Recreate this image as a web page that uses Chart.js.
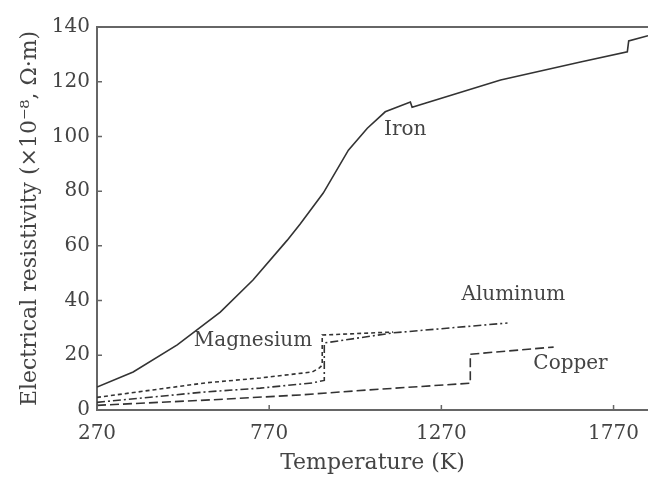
<!DOCTYPE html>
<html>
<head>
<meta charset="utf-8">
<script src="https://cdn.jsdelivr.net/npm/chart.js@4/dist/chart.umd.min.js"></script>
<style>
    html, body { margin: 0; padding: 0; background: #fff; }
    #wrap { width: 651px; height: 484px; position: relative; }
</style>
</head>
<body>
<div id="wrap"><canvas id="resistivityChart"></canvas></div>
<script>
// temperature (K) / resistivity (x10^-8 ohm.m)
const ironT = [270, 375, 503, 628, 723, 822, 860, 927, 1000, 1055, 1107, 1180, 1185, 1442, 1674, 1810, 1814, 1870];
const ironR = [8.4, 13.9, 23.8, 35.8, 47.5, 62, 68, 79.3, 95, 103, 109, 112.6, 110.7, 120.6, 127.2, 130.9, 134.9, 136.8];

const magnesiumT = [270, 584, 744, 895, 915, 924, 924, 1130];
const magnesiumR = [4.6, 9.9, 11.7, 13.9, 15.3, 16.4, 27.4, 28.5];

const aluminumT = [270, 584, 744, 895, 930, 930, 1130, 1462];
const aluminumR = [2.8, 6.6, 8.0, 9.9, 10.8, 24.5, 28.2, 31.8];

const copperT = [270, 584, 860, 1055, 1354, 1354, 1596];
const copperR = [1.7, 3.6, 5.5, 7.3, 9.8, 20.4, 23.0];

const xTicks = [270, 770, 1270, 1770];
const yTicks = [0, 20, 40, 60, 80, 100, 120, 140];

// curve labels placed in data coordinates
const curveLabels = [
    { text: 'Iron', t: 1165, r: 102.3 },
    { text: 'Magnesium', t: 723, r: 25.2 },
    { text: 'Aluminum', t: 1479, r: 42 },
    { text: 'Copper', t: 1645, r: 16.8 }
];

const lineColor = '#333';
const axisColor = '#666';
const textColor = '#444';
const serif = "'DejaVu Serif', serif";

function toPoints(ts, rs) {
    return ts.map((t, i) => ({ x: t, y: rs[i] }));
}

function series(label, ts, rs, dash) {
    return {
        label: label,
        data: toPoints(ts, rs),
        borderColor: lineColor,
        borderWidth: 1.6,
        borderDash: dash,
        pointRadius: 0,
        tension: 0,
        fill: false
    };
}

const extrasPlugin = {
    id: 'extras',
    afterDraw(chart) {
        const ctx = chart.ctx;
        const area = chart.chartArea;
        const xs = chart.scales.x;
        const ys = chart.scales.y;
        ctx.save();
        // top frame line
        ctx.strokeStyle = axisColor;
        ctx.lineWidth = 2;
        ctx.beginPath();
        ctx.moveTo(area.left - 1, area.top);
        ctx.lineTo(area.right, area.top);
        ctx.stroke();
        // inward ticks
        ctx.lineWidth = 1.5;
        ctx.beginPath();
        xTicks.forEach(v => {
            const px = xs.getPixelForValue(v);
            ctx.moveTo(px, area.bottom);
            ctx.lineTo(px, area.bottom - 5);
        });
        yTicks.forEach(v => {
            const py = ys.getPixelForValue(v);
            ctx.moveTo(area.left, py);
            ctx.lineTo(area.left + 5, py);
        });
        ctx.stroke();
        // curve labels
        ctx.fillStyle = textColor;
        ctx.font = '20px ' + serif;
        ctx.textAlign = 'center';
        ctx.textBaseline = 'middle';
        curveLabels.forEach(l => {
            ctx.fillText(l.text, xs.getPixelForValue(l.t), ys.getPixelForValue(l.r));
        });
        ctx.restore();
    }
};

new Chart(document.getElementById('resistivityChart').getContext('2d'), {
    type: 'line',
    data: {
        datasets: [
            series('Iron', ironT, ironR, []),
            series('Magnesium', magnesiumT, magnesiumR, [4, 3]),
            series('Aluminum', aluminumT, aluminumR, [8, 3, 2, 3]),
            series('Copper', copperT, copperR, [9, 4])
        ]
    },
    options: {
        responsive: true,
        maintainAspectRatio: false,
        animation: false,
        layout: { padding: { top: 27, right: 0, bottom: 0, left: 0 } },
        plugins: {
            legend: { display: false },
            tooltip: { enabled: false }
        },
        scales: {
            x: {
                type: 'linear',
                min: 270,
                max: 1870,
                afterBuildTicks: scale => { scale.ticks = xTicks.map(v => ({ value: v })); },
                afterFit: scale => { scale.height = 74; },
                grid: { display: false, drawTicks: false },
                border: { display: true, color: axisColor, width: 2 },
                ticks: {
                    color: textColor,
                    font: { family: serif, size: 20 },
                    padding: 12,
                    maxRotation: 0,
                    callback: v => String(v)
                },
                title: {
                    display: true,
                    text: 'Temperature (K)',
                    color: textColor,
                    font: { family: serif, size: 22 },
                    padding: { top: 0, bottom: 8 }
                }
            },
            y: {
                min: 0,
                max: 140,
                afterBuildTicks: scale => { scale.ticks = yTicks.map(v => ({ value: v })); },
                afterFit: scale => { scale.width = 97; },
                grid: { display: false, drawTicks: false },
                border: { display: true, color: axisColor, width: 2 },
                ticks: {
                    color: textColor,
                    font: { family: serif, size: 20 },
                    padding: 7,
                    callback: v => String(v)
                },
                title: {
                    display: true,
                    text: 'Electrical resistivity (×10⁻⁸, Ω·m)',
                    color: textColor,
                    font: { family: serif, size: 22 },
                    padding: { top: 17, bottom: 0 }
                }
            }
        }
    },
    plugins: [extrasPlugin]
});
</script>
</body>
</html>
